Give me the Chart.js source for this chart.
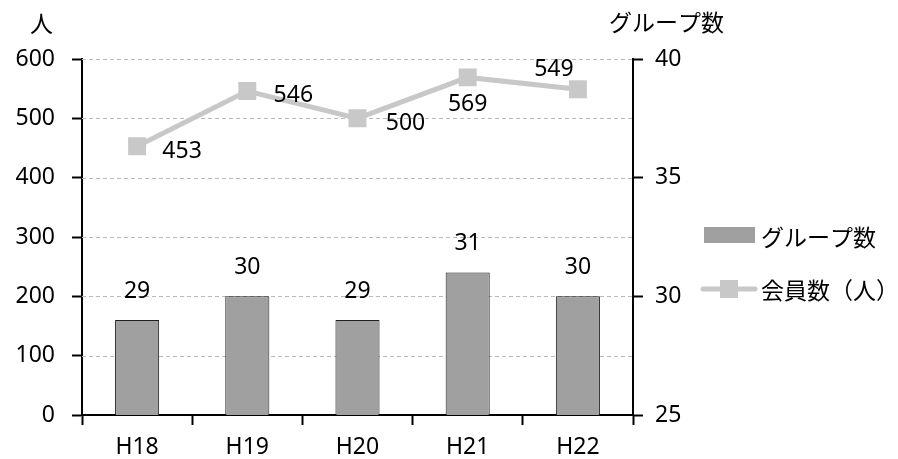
<!DOCTYPE html>
<html>
<head>
<meta charset="utf-8">
<script src="https://cdn.jsdelivr.net/npm/chart.js@4.4.1/dist/chart.umd.min.js"></script>
<style>
  html, body { margin: 0; padding: 0; background: #fff; }
</style>
</head>
<body>
<canvas id="chart" width="898" height="459"></canvas>
<script>
const years = ["H18", "H19", "H20", "H21", "H22"];
const groupCounts = [29, 30, 29, 31, 30];
const memberCounts = [453, 546, 500, 569, 549];
const leftTicks = [0, 100, 200, 300, 400, 500, 600];
const rightTicks = [25, 30, 35, 40];

// label nudges for the member line (px), like the hand-moved labels in the original
const memberLabelOffsets = [[45, 5], [46, 4], [48, 5], [0, 27], [-24, -20]];

const NUM_FONT = "'Noto Sans', 'Noto Sans CJK JP', sans-serif";
const JP_FONT = "'Noto Sans CJK JP', 'Noto Sans', sans-serif";
const BAR_COLOR = "#a0a0a0";
const LINE_COLOR = "#c8c8c8";

const extras = {
  id: "extras",
  beforeDatasetsDraw(chart) {
    const { ctx, chartArea } = chart;
    const y = chart.scales.y;
    ctx.save();
    ctx.strokeStyle = "#b9b9b9";
    ctx.lineWidth = 1;
    ctx.setLineDash([4, 3]);
    leftTicks.forEach(v => {
      if (v === 0) return;
      const py = Math.round(y.getPixelForValue(v)) + 0.5;
      ctx.beginPath();
      ctx.moveTo(chartArea.left, py);
      ctx.lineTo(chartArea.right, py);
      ctx.stroke();
    });
    ctx.restore();
  },
  afterDraw(chart) {
    const { ctx, chartArea } = chart;
    ctx.save();
    ctx.fillStyle = "#000";
    ctx.textBaseline = "middle";

    // axis titles
    ctx.font = "23px " + JP_FONT;
    ctx.textAlign = "left";
    ctx.fillText("人", 30, 23);
    ctx.fillText("グループ数", 609, 22);

    // bar value labels
    ctx.font = "23px " + NUM_FONT;
    ctx.textAlign = "center";
    chart.getDatasetMeta(0).data.forEach((bar, i) => {
      ctx.fillText(String(groupCounts[i]), bar.x, bar.y - 29);
    });

    // line value labels
    chart.getDatasetMeta(1).data.forEach((pt, i) => {
      const [dx, dy] = memberLabelOffsets[i];
      ctx.fillText(String(memberCounts[i]), pt.x + dx, pt.y + dy);
    });

    // legend
    const lx = chartArea.right + 71;
    ctx.fillStyle = BAR_COLOR;
    ctx.fillRect(lx, 227, 51, 16);
    ctx.strokeStyle = LINE_COLOR;
    ctx.lineWidth = 5;
    ctx.lineCap = "round";
    ctx.beginPath();
    ctx.moveTo(lx - 1, 289);
    ctx.lineTo(lx + 51, 289);
    ctx.stroke();
    ctx.fillStyle = LINE_COLOR;
    ctx.fillRect(lx + 16, 280, 18, 18);

    ctx.fillStyle = "#000";
    ctx.font = "23px " + JP_FONT;
    ctx.textAlign = "left";
    ctx.fillText("グループ数", lx + 57, 237);
    ctx.fillText("会員数（人）", lx + 57, 290);
    ctx.restore();
  }
};

const ctx = document.getElementById("chart").getContext("2d");
const chart = new Chart(ctx, {
  type: "bar",
  data: {
    labels: years,
    datasets: [
      {
        type: "bar",
        label: "グループ数",
        data: groupCounts,
        yAxisID: "y1",
        backgroundColor: BAR_COLOR,
        borderColor: "#1e1e1e",
        borderWidth: 1,
        barPercentage: 0.4,
        categoryPercentage: 1,
        order: 2,
      },
      {
        type: "line",
        label: "会員数（人）",
        data: memberCounts,
        yAxisID: "y",
        borderColor: LINE_COLOR,
        borderWidth: 5,
        pointStyle: "rect",
        pointRadius: 12.7,
        pointBackgroundColor: LINE_COLOR,
        pointBorderColor: LINE_COLOR,
        pointBorderWidth: 0,
        tension: 0,
        order: 1,
      },
    ],
  },
  options: {
    responsive: false,
    animation: false,
    layout: { padding: { left: 0, right: 205, top: 59, bottom: 0 } },
    plugins: {
      legend: { display: false },
      tooltip: { enabled: false },
    },
    scales: {
      x: {
        offset: true,
        grid: { offset: true, drawOnChartArea: false, tickLength: 10, tickColor: "#000", tickWidth: 2 },
        border: { color: "#000", width: 2 },
        ticks: { color: "#000", font: { family: NUM_FONT, size: 23 }, padding: 9 },
        afterFit(scale) { scale.height = 44; },
      },
      y: {
        position: "left",
        min: 0,
        max: 600,
        afterBuildTicks(scale) { scale.ticks = leftTicks.map(v => ({ value: v })); },
        grid: { drawOnChartArea: false, tickLength: 10, tickColor: "#000", tickWidth: 2 },
        border: { color: "#000", width: 2 },
        ticks: { color: "#000", font: { family: NUM_FONT, size: 23 }, padding: 17 },
        afterFit(scale) { scale.width = 82; },
      },
      y1: {
        position: "right",
        min: 25,
        max: 40,
        afterBuildTicks(scale) { scale.ticks = rightTicks.map(v => ({ value: v })); },
        grid: { drawOnChartArea: false, tickLength: 10, tickColor: "#000", tickWidth: 2 },
        border: { color: "#000", width: 2 },
        ticks: { color: "#000", font: { family: NUM_FONT, size: 23 }, padding: 12 },
        afterFit(scale) { scale.width = 60; },
      },
    },
  },
  plugins: [extras],
});
</script>
</body>
</html>
